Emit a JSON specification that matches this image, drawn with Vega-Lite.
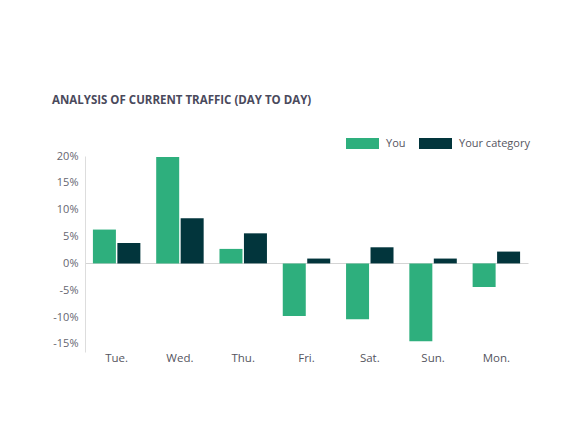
{
  "$schema": "https://vega.github.io/schema/vega-lite/v6.json",
  "width": 443,
  "height": 196,
  "autosize": "none",
  "padding": {"left": 85, "top": 156, "right": 44, "bottom": 78},
  "background": "white",
  "config": {
    "view": {"stroke": null},
    "font": "Open Sans"
  },
  "title": {
    "text": "ANALYSIS OF CURRENT TRAFFIC (DAY TO DAY)",
    "anchor": "start",
    "frame": "group",
    "dx": -33,
    "offset": 21,
    "fontSize": 11.5,
    "fontWeight": "bold",
    "color": "#4a4a5c",
    "font": "Open Sans"
  },
  "data": {
    "values": [
      {"day": "Tue.", "series": "You", "value": 6.3},
      {"day": "Tue.", "series": "Your category", "value": 3.8},
      {"day": "Wed.", "series": "You", "value": 19.8},
      {"day": "Wed.", "series": "Your category", "value": 8.4},
      {"day": "Thu.", "series": "You", "value": 2.7},
      {"day": "Thu.", "series": "Your category", "value": 5.6},
      {"day": "Fri.", "series": "You", "value": -9.8},
      {"day": "Fri.", "series": "Your category", "value": 0.9},
      {"day": "Sat.", "series": "You", "value": -10.4},
      {"day": "Sat.", "series": "Your category", "value": 3.0},
      {"day": "Sun.", "series": "You", "value": -14.5},
      {"day": "Sun.", "series": "Your category", "value": 0.9},
      {"day": "Mon.", "series": "You", "value": -4.4},
      {"day": "Mon.", "series": "Your category", "value": 2.2}
    ]
  },
  "mark": {"type": "bar"},
  "encoding": {
    "x": {
      "field": "day",
      "type": "nominal",
      "sort": ["Tue.", "Wed.", "Thu.", "Fri.", "Sat.", "Sun.", "Mon."],
      "scale": {"paddingInner": 0.25, "paddingOuter": 0.125},
      "axis": {
        "title": null,
        "labelAngle": 0,
        "domain": false,
        "ticks": false,
        "labelPadding": 0,
        "labelFontSize": 11.5,
        "labelColor": "#555560"
      }
    },
    "xOffset": {
      "field": "series",
      "type": "nominal",
      "sort": ["You", "Your category"],
      "scale": {"paddingInner": 0.06}
    },
    "y": {
      "field": "value",
      "type": "quantitative",
      "scale": {"domain": [-16.5, 20], "nice": false, "zero": false},
      "axis": {
        "title": null,
        "values": [-15, -10, -5, 0, 5, 10, 15, 20],
        "labelExpr": "datum.value + '%'",
        "labelOverlap": false,
        "grid": true,
        "gridColor": {"condition": {"test": "datum.value === 0", "value": "#d4d4d4"}, "value": "transparent"},
        "ticks": false,
        "labelPadding": 7,
        "labelFontSize": 11,
        "labelColor": "#666670",
        "domainColor": "#dddddd"
      }
    },
    "color": {
      "field": "series",
      "type": "nominal",
      "scale": {"domain": ["You", "Your category"], "range": ["#2eaf7d", "#02353c"]},
      "legend": {
        "title": null,
        "orient": "none",
        "direction": "horizontal",
        "legendX": 261,
        "legendY": -29,
        "symbolType": "M-1,-0.333H1V0.333H-1Z",
        "symbolSize": 1089,
        "symbolStrokeWidth": 0,
        "symbolOpacity": 1,
        "labelFontSize": 11,
        "labelColor": "#555560",
        "labelOffset": 7,
        "columnPadding": 13
      }
    }
  }
}
